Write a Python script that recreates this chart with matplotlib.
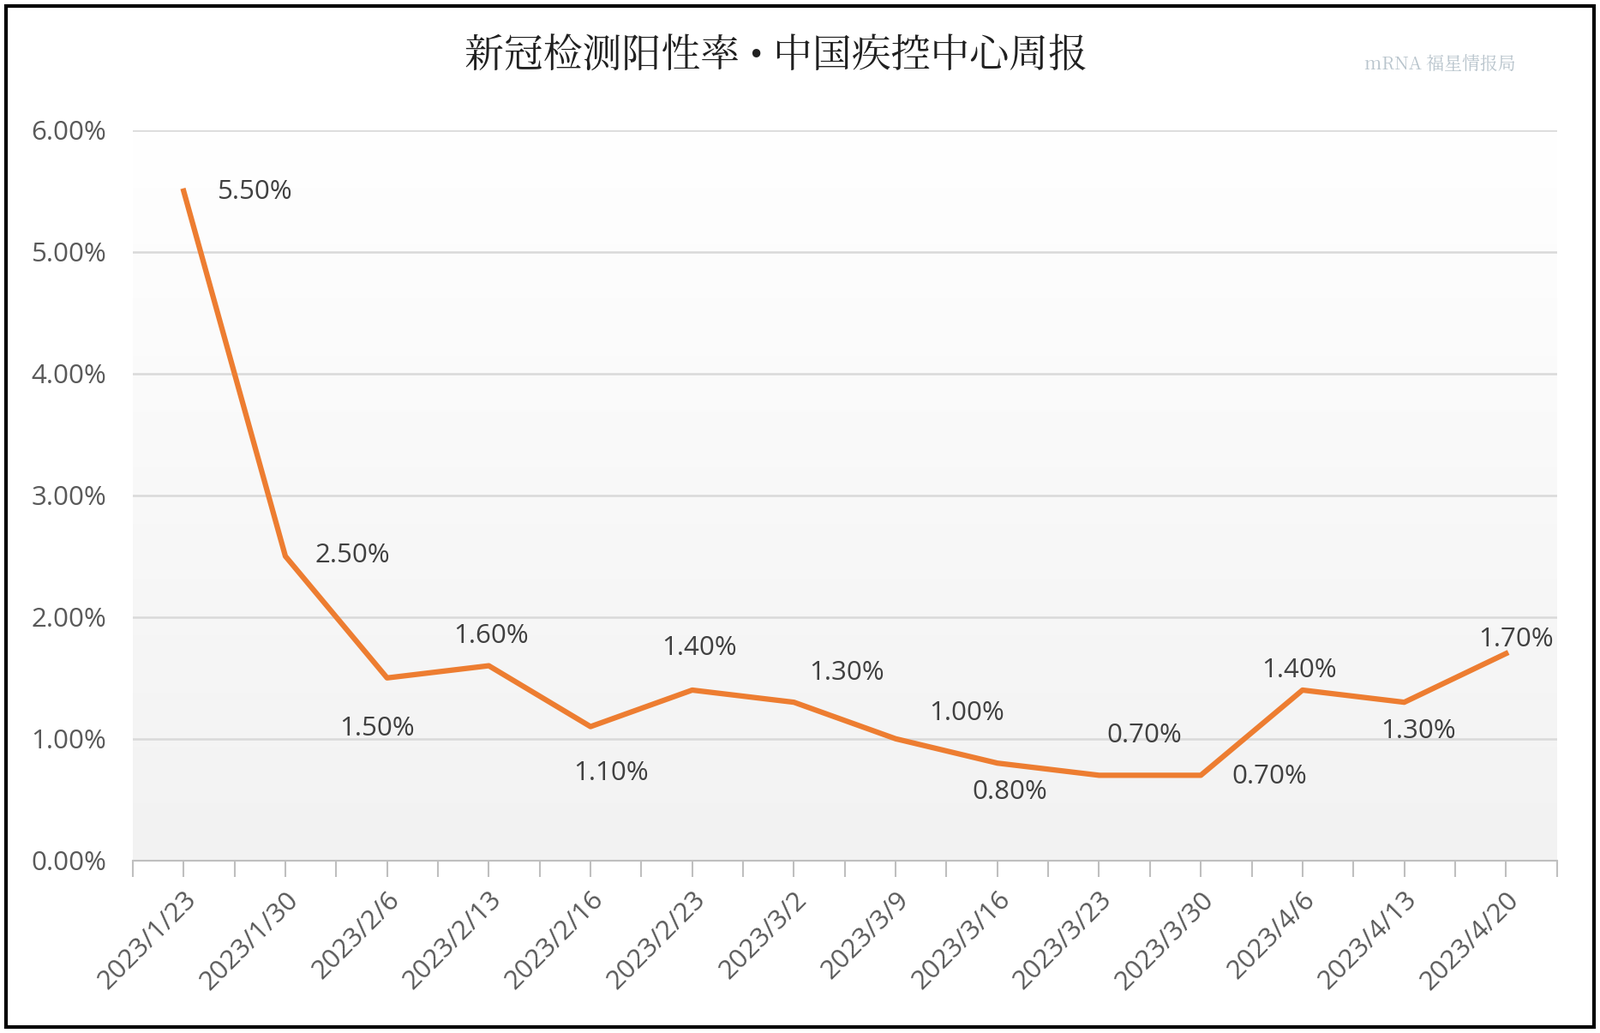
import matplotlib
matplotlib.use("Agg")
import matplotlib.pyplot as plt
import numpy as np
from matplotlib.patches import Rectangle
from matplotlib import font_manager as fm

dates = ["2023/1/23","2023/1/30","2023/2/6","2023/2/13","2023/2/16","2023/2/23","2023/3/2",
         "2023/3/9","2023/3/16","2023/3/23","2023/3/30","2023/4/6","2023/4/13","2023/4/20"]
rates = [5.5, 2.5, 1.5, 1.6, 1.1, 1.4, 1.3, 1.0, 0.8, 0.7, 0.7, 1.4, 1.3, 1.7]
labels = ["5.50%","2.50%","1.50%","1.60%","1.10%","1.40%","1.30%","1.00%","0.80%","0.70%","0.70%","1.40%","1.30%","1.70%"]
yticks = [0, 1, 2, 3, 4, 5, 6]

cands = [f for f in fm.fontManager.ttflist if "CJK" in f.name]
def score(f):
    s = 0
    if "SC" in f.name: s += 2
    w = f.weight if isinstance(f.weight, int) else {"normal": 400, "regular": 400}.get(str(f.weight).lower(), 700)
    s -= abs(w - 400) / 100
    if "bold" in f.fname.lower(): s -= 10
    return s
cjk = max(cands, key=score) if cands else None
cjk_prop = fm.FontProperties(fname=cjk.fname) if cjk else fm.FontProperties(family="Noto Sans CJK SC")
cjk_prop.set_weight("normal")

fig = plt.figure(figsize=(18.67, 12.05), dpi=100)
fig.patches.append(Rectangle((0.004, 0.006), 0.992, 0.988, transform=fig.transFigure,
                             fill=False, edgecolor="black", linewidth=3))
ax = fig.add_axes([0.083, 0.167, 0.890, 0.707])
x = np.arange(len(dates))
ax.set_xlim(-0.5, len(dates) - 0.5)
ax.set_ylim(0, 6)
grad = np.linspace(0, 1, 256).reshape(-1, 1)
ax.imshow(grad, cmap=matplotlib.colors.LinearSegmentedColormap.from_list("g", ["#f2f2f2", "#ffffff"]),
          extent=[-0.5, len(dates) - 0.5, 0, 6], origin="lower", aspect="auto", zorder=0)
for t in yticks[1:]:
    ax.axhline(t, color="#d9d9d9", lw=1.8, zorder=1)
ax.plot(x, rates, color="#ed7d31", lw=4.5, zorder=3)

offs = [(70, 1), (66, -1), (-10, 50), (2, -29), (20, 46), (7, -41), (52, -29), (70, -25),
        (12, 28), (44, -39), (67, 1), (-3, -19), (14, 28), (10, -14)]
for xi, yi, lab, (dx, dy) in zip(x, rates, labels, offs):
    ax.annotate(lab, (xi, yi), xytext=(dx * 0.857, -dy * 0.857), textcoords="offset points",
                ha="center", va="center", fontsize=22.5, color="#404040", family="Open Sans", zorder=4)

ax.set_yticks(yticks)
ax.set_yticklabels([f"{t:.2f}%" for t in yticks], fontsize=22.5, color="#595959", family="Open Sans")
ax.set_xticks(x)
ax.set_xticklabels(dates, rotation=45, ha="right", rotation_mode="anchor", fontsize=22.5,
                   color="#595959", family="Open Sans")
ax.set_xticks(np.arange(-0.5, len(dates), 1), minor=True)
ax.tick_params(axis="x", which="both", length=14, color="#bfbfbf", width=1.5, pad=8)
ax.tick_params(axis="y", length=0, pad=22)
for s in ["top", "right", "left"]:
    ax.spines[s].set_visible(False)
ax.spines["bottom"].set_color("#bfbfbf")
ax.spines["bottom"].set_linewidth(1.5)

p = cjk_prop.copy(); p.set_size(33)
fig.text(0.485, 0.945, "新冠检测阳性率 • 中国疾控中心周报", ha="center", va="center",
         fontproperties=p, color="#202020")
p2 = cjk_prop.copy(); p2.set_size(15)
fig.text(0.9, 0.938, "mRNA 福星情报局", ha="center", va="center", fontproperties=p2, color="#b8c4cc")
fig.savefig("out.png", dpi=100)
